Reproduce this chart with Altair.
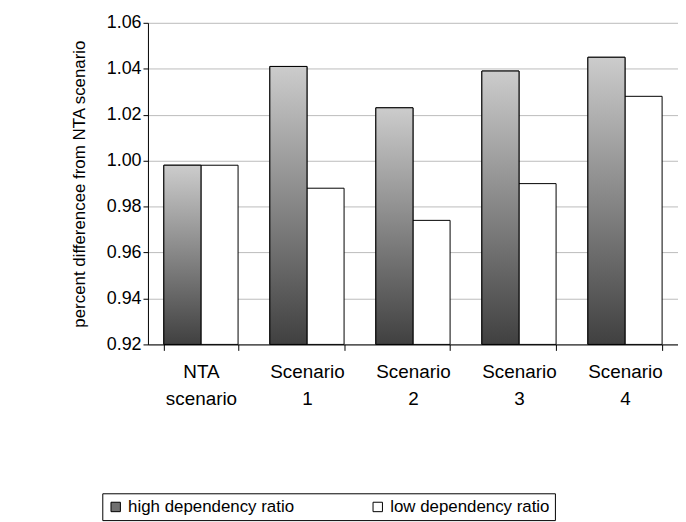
import altair as alt
import pandas as pd

cats = ["NTA scenario", "Scenario 1", "Scenario 2", "Scenario 3", "Scenario 4"]
high = [0.998, 1.041, 1.023, 1.039, 1.045]
low = [0.998, 0.988, 0.974, 0.990, 1.028]
series = ["high dependency ratio", "low dependency ratio"]

rows = []
for c, h, l in zip(cats, high, low):
    rows.append({"cat": c, "s": series[0], "v": h})
    rows.append({"cat": c, "s": series[1], "v": l})
df = pd.DataFrame(rows)

F = "Liberation Sans"
x = alt.X("cat:N", sort=cats, title=None,
          scale=alt.Scale(paddingInner=0.3, paddingOuter=0.15),
          axis=alt.Axis(labelAngle=0, labelExpr="split(datum.label, ' ')", tickBand="extent",
                        labelFontSize=19, labelFont=F, labelColor="black", domainColor="black",
                        tickColor="black", labelPadding=12, labelLineHeight=28, tickSize=6))
y = alt.Y("v:Q", title="percent differencee from NTA scenario",
          scale=alt.Scale(domain=[0.92, 1.06], zero=False, nice=False),
          axis=alt.Axis(values=[0.92, 0.94, 0.96, 0.98, 1.00, 1.02, 1.04, 1.06], format=".2f",
                        grid=True, gridColor="#bbbbbb", labelFontSize=18, labelFont=F, labelColor="black",
                        titleFontSize=17, titleFont=F, titleFontWeight="normal", titleColor="black",
                        domainColor="black", tickColor="black", titlePadding=18))
y2 = alt.Y2(datum=0.92)
xo = alt.XOffset("s:N", scale=alt.Scale(domain=series))

base = alt.Chart(df).mark_bar(stroke="black", strokeWidth=1).encode(
    x=x, y=y, y2=y2, xOffset=xo,
    color=alt.Color("s:N", scale=alt.Scale(domain=series, range=["#707070", "white"]),
                    legend=alt.Legend(title=None, orient="none", legendX=-46, legendY=474,
                                      direction="horizontal", labelLimit=300,
                                      symbolType="square", symbolStrokeColor="black",
                                      symbolStrokeWidth=1, symbolSize=90, labelFontSize=17,
                                      labelFont=F, labelColor="black", columnPadding=75,
                                      strokeColor="black", padding=5)))

grad = alt.Gradient(gradient="linear", x1=0, y1=0, x2=0, y2=1,
                    stops=[alt.GradientStop(offset=0, color="#cccccc"),
                           alt.GradientStop(offset=1, color="#404040")])
hi = alt.Chart(df[df.s == series[0]]).mark_bar(stroke="black", strokeWidth=1, color=grad).encode(
    x=x, y=y, y2=y2, xOffset=xo)

chart = alt.layer(base, hi).properties(width=534, height=324, padding={"left": 62, "top": 4, "right": 0, "bottom": 0}).configure_view(stroke=None)
chart.save("out.html", embed_options={"renderer": "svg", "actions": False})
